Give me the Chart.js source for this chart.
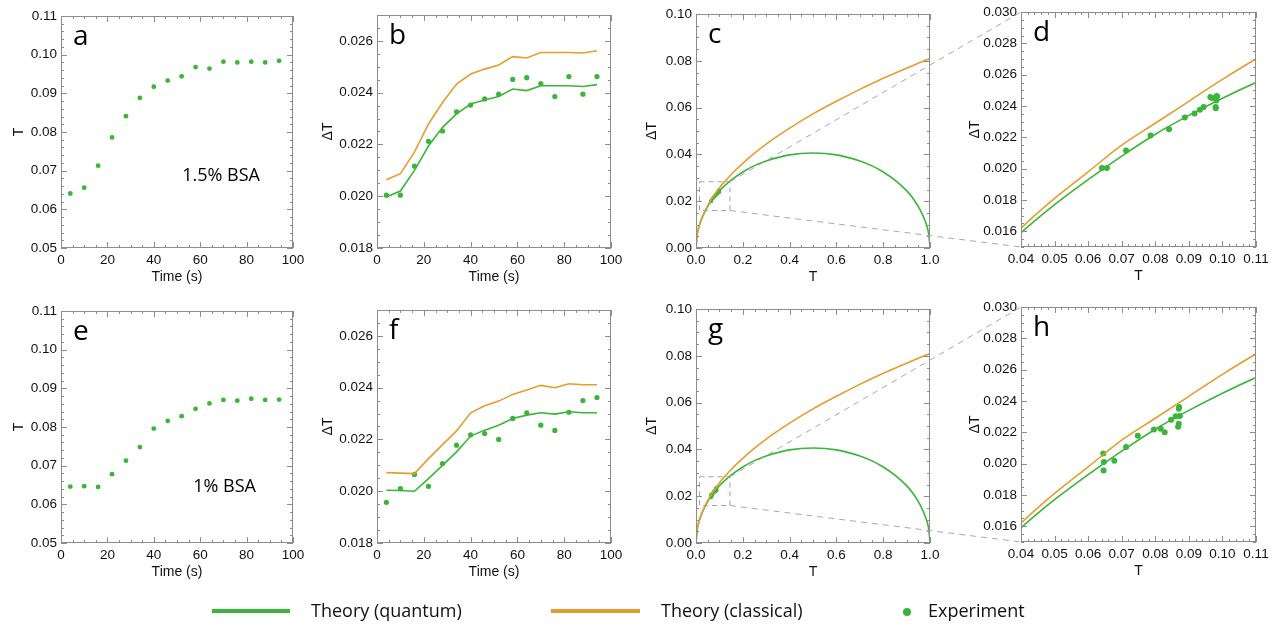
<!DOCTYPE html>
<html>
<head>
<meta charset="utf-8">
<script src="https://cdn.jsdelivr.net/npm/chart.js@4/dist/chart.umd.min.js"></script>
<style>
body{margin:0;background:#fff;}
#page{position:relative;width:1285px;height:627px;overflow:hidden;background:#fff;}
#page canvas{position:absolute;}
#overlay{left:0;top:0;pointer-events:none;}
.leg{position:absolute;top:597px;font-family:"Open Sans",sans-serif;font-size:18px;color:#111;line-height:26px;white-space:nowrap;}
.legline{position:absolute;top:609px;height:4px;}
.legdot{position:absolute;top:608px;width:8px;height:8px;border-radius:50%;}
</style>
</head>
<body>
<div id="page">
  <canvas id="ca"></canvas><canvas id="cb"></canvas><canvas id="cc"></canvas><canvas id="cd"></canvas>
  <canvas id="ce"></canvas><canvas id="cf"></canvas><canvas id="cg"></canvas><canvas id="ch"></canvas>
  <canvas id="overlay" width="1285" height="627"></canvas>
  <div class="legline" style="left:212px;width:78px;background:#3ab53a"></div>
  <div class="leg" style="left:311px">Theory (quantum)</div>
  <div class="legline" style="left:551px;width:89px;background:#e69d2e"></div>
  <div class="leg" style="left:661px">Theory (classical)</div>
  <div class="legdot" style="left:903px;background:#3ab53a"></div>
  <div class="leg" style="left:928px">Experiment</div>
</div>
<script>
// time points (s)
const times = [4, 10, 16, 22, 28, 34, 40, 46, 52, 58, 64, 70, 76, 82, 88, 94];

// 1.5% BSA
const T15 = [0.0641, 0.0656, 0.0713, 0.0786, 0.0841, 0.0888, 0.0917, 0.0933, 0.0944, 0.0968, 0.0964, 0.0982, 0.0980, 0.0982, 0.0980, 0.0984];
const dT15Exp = [0.02004, 0.02004, 0.02116, 0.02212, 0.02252, 0.02326, 0.02352, 0.02376, 0.02394, 0.02451, 0.02458, 0.02435, 0.02385, 0.02462, 0.02394, 0.02462];
const dT15Quantum = [0.01997, 0.0202, 0.0210, 0.02194, 0.02266, 0.02318, 0.02356, 0.02372, 0.02385, 0.02414, 0.02408, 0.02427, 0.02427, 0.02427, 0.02424, 0.02431];
const dT15Classical = [0.02064, 0.02087, 0.0217, 0.02279, 0.02362, 0.02433, 0.02472, 0.02491, 0.02507, 0.02539, 0.02534, 0.02555, 0.02555, 0.02555, 0.02553, 0.02562];

// 1% BSA
const T1 = [0.0646, 0.0647, 0.0645, 0.0678, 0.0713, 0.0748, 0.0796, 0.0816, 0.0828, 0.0847, 0.0861, 0.0870, 0.0868, 0.0873, 0.0870, 0.0871];
const dT1Exp = [0.01957, 0.0201, 0.02065, 0.02019, 0.02107, 0.02178, 0.02218, 0.02223, 0.0220, 0.02281, 0.02303, 0.02255, 0.02235, 0.02305, 0.0235, 0.02362];
const dT1Quantum = [0.02004, 0.02003, 0.0200, 0.02049, 0.0210, 0.02152, 0.02213, 0.02236, 0.02255, 0.02281, 0.02294, 0.02303, 0.02298, 0.02307, 0.02303, 0.02303];
const dT1Classical = [0.02072, 0.0207, 0.02068, 0.02126, 0.0218, 0.02233, 0.02303, 0.0233, 0.02348, 0.02374, 0.02391, 0.02409, 0.0240, 0.02415, 0.02411, 0.02411];

// theory curves dT vs T (panels c,d,g,h)
const curveT = [0, 0.005, 0.01, 0.02, 0.03, 0.04, 0.05, 0.06, 0.07, 0.08, 0.09, 0.10, 0.11, 0.13, 0.15, 0.2, 0.25, 0.3, 0.4, 0.5, 0.6, 0.7, 0.75, 0.8, 0.85, 0.9, 0.93, 0.96, 0.98, 0.99, 0.995, 1.0];
const curveQuantum = [0, 0.0057, 0.0081, 0.0113, 0.0138, 0.0159, 0.0177, 0.0193, 0.0208, 0.0222, 0.0234, 0.0245, 0.0255, 0.0273, 0.0290, 0.0325, 0.0352, 0.0372, 0.0398, 0.0406, 0.0398, 0.0372, 0.0352, 0.0325, 0.0290, 0.0245, 0.0208, 0.0159, 0.0113, 0.0081, 0.0057, 0];
const curveClassical = [0, 0.0057, 0.0081, 0.0115, 0.0140, 0.0162, 0.0181, 0.0198, 0.0215, 0.0229, 0.0243, 0.0257, 0.0270, 0.0292, 0.0314, 0.0362, 0.0405, 0.0444, 0.0512, 0.0573, 0.0627, 0.0678, 0.0702, 0.0725, 0.0747, 0.0768, 0.0781, 0.0794, 0.0802, 0.0806, 0.0808, 0.0810];

// zoom window marked in c and g
const zoomBoxT = [0.015, 0.145];
const zoomBoxDT = [0.016, 0.0283];

const GREEN = '#3ab53a', ORANGE = '#e69d2e';
const TICKFONT = {family: '"Liberation Sans", Arial, sans-serif', size: 13.5};
const TITLEFONT = {family: '"Liberation Sans", Arial, sans-serif', size: 14};

const pts = (xs, ys) => xs.map((v, i) => ({x: v, y: ys[i]}));

const framePlugin = {
  id: 'frame',
  afterDatasetsDraw(chart, args, o) {
    const {ctx, chartArea: a, scales: {x, y}} = chart;
    ctx.save();
    ctx.strokeStyle = '#8c8c8c';
    ctx.lineWidth = 1;
    ctx.strokeRect(Math.round(a.left) + 0.5, Math.round(a.top) + 0.5, Math.round(a.width) - 1, Math.round(a.height) - 1);
    const drawTicks = (sc, n, horiz) => {
      const tk = sc.ticks.map(t => t.value);
      if (tk.length < 2) return;
      const step = (tk[1] - tk[0]) / n;
      for (let k = -n * 2; k <= (tk.length + 2) * n; k++) {
        const v = tk[0] + k * step;
        if (v < sc.min - 1e-9 || v > sc.max + 1e-9) continue;
        const len = (k % n === 0) ? 6 : 3;
        const p = Math.round(sc.getPixelForValue(v)) + 0.5;
        ctx.beginPath();
        if (horiz) {
          ctx.moveTo(p, a.bottom); ctx.lineTo(p, a.bottom - len);
          ctx.moveTo(p, a.top); ctx.lineTo(p, a.top + len);
        } else {
          ctx.moveTo(a.left, p); ctx.lineTo(a.left + len, p);
          ctx.moveTo(a.right, p); ctx.lineTo(a.right - len, p);
        }
        ctx.stroke();
      }
    };
    drawTicks(x, o.minorX || 4, true);
    drawTicks(y, o.minorY || 4, false);
    if (o.box) {
      ctx.setLineDash([5, 4]);
      ctx.strokeStyle = '#a0a0a0';
      const l = x.getPixelForValue(o.box[0][0]), r = x.getPixelForValue(o.box[0][1]);
      const t = y.getPixelForValue(o.box[1][1]), b = y.getPixelForValue(o.box[1][0]);
      ctx.strokeRect(l, t, r - l, b - t);
      ctx.setLineDash([]);
    }
    ctx.fillStyle = '#000';
    ctx.textBaseline = 'alphabetic';
    ctx.font = '28px "Open Sans", sans-serif';
    ctx.fillText(o.letter, a.left + 12, a.top + 29);
    if (o.note) {
      ctx.font = '18px "Open Sans", sans-serif';
      ctx.textAlign = 'center';
      ctx.textBaseline = 'middle';
      ctx.fillText(o.note.text, x.getPixelForValue(o.note.x), y.getPixelForValue(o.note.y));
    }
    ctx.restore();
  }
};

function axis(min, max, step, dec, title, titlePad, fit) {
  return {
    type: 'linear', min: min, max: max,
    ticks: {stepSize: step, includeBounds: false, autoSkip: false, maxRotation: 0, padding: 4,
            color: '#111', font: TICKFONT, callback: v => v.toFixed(dec)},
    grid: {display: false, drawTicks: false}, border: {display: false},
    title: {display: true, text: title, color: '#111', font: TITLEFONT, padding: titlePad},
    afterFit: fit
  };
}

// plot = [left, top, right, bottom] of the frame, yW = room left of it, titleX = centre of y title from canvas left
function makePanel(id, plot, yW, titleX, datasets, xs, ys, frame) {
  const cv = document.getElementById(id);
  const left = plot[0] - yW, top = plot[1] - 15;
  cv.width = plot[2] - plot[0] + yW + 22;
  cv.height = plot[3] - plot[1] + 15 + 42;
  cv.style.left = left + 'px';
  cv.style.top = top + 'px';
  const chart = new Chart(cv, {
    type: 'scatter',
    data: {datasets: datasets},
    options: {
      responsive: false, animation: false, events: [],
      layout: {padding: {top: 15, right: 22, left: 0, bottom: 0}},
      plugins: {legend: {display: false}, tooltip: {enabled: false}, frame: frame},
      scales: {
        x: axis(xs[0], xs[1], xs[2], xs[3], xs[4], {top: 0, bottom: 4.6}, s => { s.height = 42; }),
        y: axis(ys[0], ys[1], ys[2], ys[3], ys[4], {top: titleX - 8.4, bottom: 0}, s => { s.width = yW; })
      }
    },
    plugins: [framePlugin]
  });
  chart.$left = left; chart.$top = top;
  return chart;
}

const lineDs = (data, color) => ({data: data, showLine: true, borderColor: color, borderWidth: 1.6, pointRadius: 0, tension: 0, fill: false});
const curveDs = (data, color) => ({data: data, showLine: true, borderColor: color, borderWidth: 1.6, pointRadius: 0, cubicInterpolationMode: 'monotone', fill: false});
const dotDs = (data, r) => ({data: data, showLine: false, pointRadius: r, pointBackgroundColor: GREEN, pointBorderWidth: 0});

const quantumCurve = pts(curveT, curveQuantum);
const classicalCurve = pts(curveT, curveClassical);

// top row: 1.5% BSA
makePanel('ca', [61, 16, 293, 248], 61, 19, [dotDs(pts(times, T15), 2.4)],
  [0, 100, 20, 0, 'Time (s)'], [0.05, 0.11, 0.01, 2, 'T'],
  {letter: 'a', minorX: 4, minorY: 5, note: {text: '1.5% BSA', x: 69, y: 0.0686}});
makePanel('cb', [377, 15, 611, 248], 72, 23,
  [lineDs(pts(times, dT15Classical), ORANGE), lineDs(pts(times, dT15Quantum), GREEN), dotDs(pts(times, dT15Exp), 2.6)],
  [0, 100, 20, 0, 'Time (s)'], [0.018, 0.027, 0.002, 3, 'ΔT'], {letter: 'b', minorX: 4, minorY: 4});
const chC = makePanel('cc', [696, 14, 930, 248], 71, 27,
  [curveDs(classicalCurve, ORANGE), curveDs(quantumCurve, GREEN), dotDs(pts(T15, dT15Exp), 2)],
  [0, 1, 0.2, 1, 'T'], [0, 0.1, 0.02, 2, 'ΔT'], {letter: 'c', minorX: 4, minorY: 4, box: [zoomBoxT, zoomBoxDT]});
const chD = makePanel('cd', [1021, 12, 1256, 247], 71, 25,
  [curveDs(classicalCurve, ORANGE), curveDs(quantumCurve, GREEN), dotDs(pts(T15, dT15Exp), 3)],
  [0.04, 0.11, 0.01, 2, 'T'], [0.015, 0.03, 0.002, 3, 'ΔT'], {letter: 'd', minorX: 5, minorY: 4});

// bottom row: 1% BSA
makePanel('ce', [61, 311, 293, 543], 61, 19, [dotDs(pts(times, T1), 2.4)],
  [0, 100, 20, 0, 'Time (s)'], [0.05, 0.11, 0.01, 2, 'T'],
  {letter: 'e', minorX: 4, minorY: 5, note: {text: '1% BSA', x: 70.5, y: 0.0644}});
makePanel('cf', [377, 310, 611, 543], 72, 23,
  [lineDs(pts(times, dT1Classical), ORANGE), lineDs(pts(times, dT1Quantum), GREEN), dotDs(pts(times, dT1Exp), 2.6)],
  [0, 100, 20, 0, 'Time (s)'], [0.018, 0.027, 0.002, 3, 'ΔT'], {letter: 'f', minorX: 4, minorY: 4});
const chG = makePanel('cg', [696, 309, 930, 543], 71, 27,
  [curveDs(classicalCurve, ORANGE), curveDs(quantumCurve, GREEN), dotDs(pts(T1, dT1Exp), 2)],
  [0, 1, 0.2, 1, 'T'], [0, 0.1, 0.02, 2, 'ΔT'], {letter: 'g', minorX: 4, minorY: 4, box: [zoomBoxT, zoomBoxDT]});
const chH = makePanel('ch', [1021, 307, 1256, 542], 71, 25,
  [curveDs(classicalCurve, ORANGE), curveDs(quantumCurve, GREEN), dotDs(pts(T1, dT1Exp), 3)],
  [0.04, 0.11, 0.01, 2, 'T'], [0.015, 0.03, 0.002, 3, 'ΔT'], {letter: 'h', minorX: 5, minorY: 4});

// dashed connectors from the zoom box to the magnified panel
const ov = document.getElementById('overlay').getContext('2d');
ov.strokeStyle = '#a8a8a8';
ov.lineWidth = 1;
ov.setLineDash([6, 5]);
[[chC, chD], [chG, chH]].forEach(([src, dst]) => {
  const bx = src.$left + src.scales.x.getPixelForValue(zoomBoxT[1]);
  const byTop = src.$top + src.scales.y.getPixelForValue(zoomBoxDT[1]);
  const byBot = src.$top + src.scales.y.getPixelForValue(zoomBoxDT[0]);
  const dx = dst.$left + dst.chartArea.left;
  ov.beginPath();
  ov.moveTo(bx, byTop); ov.lineTo(dx, dst.$top + dst.chartArea.top);
  ov.moveTo(bx, byBot); ov.lineTo(dx, dst.$top + dst.chartArea.bottom);
  ov.stroke();
});
</script>
</body>
</html>
